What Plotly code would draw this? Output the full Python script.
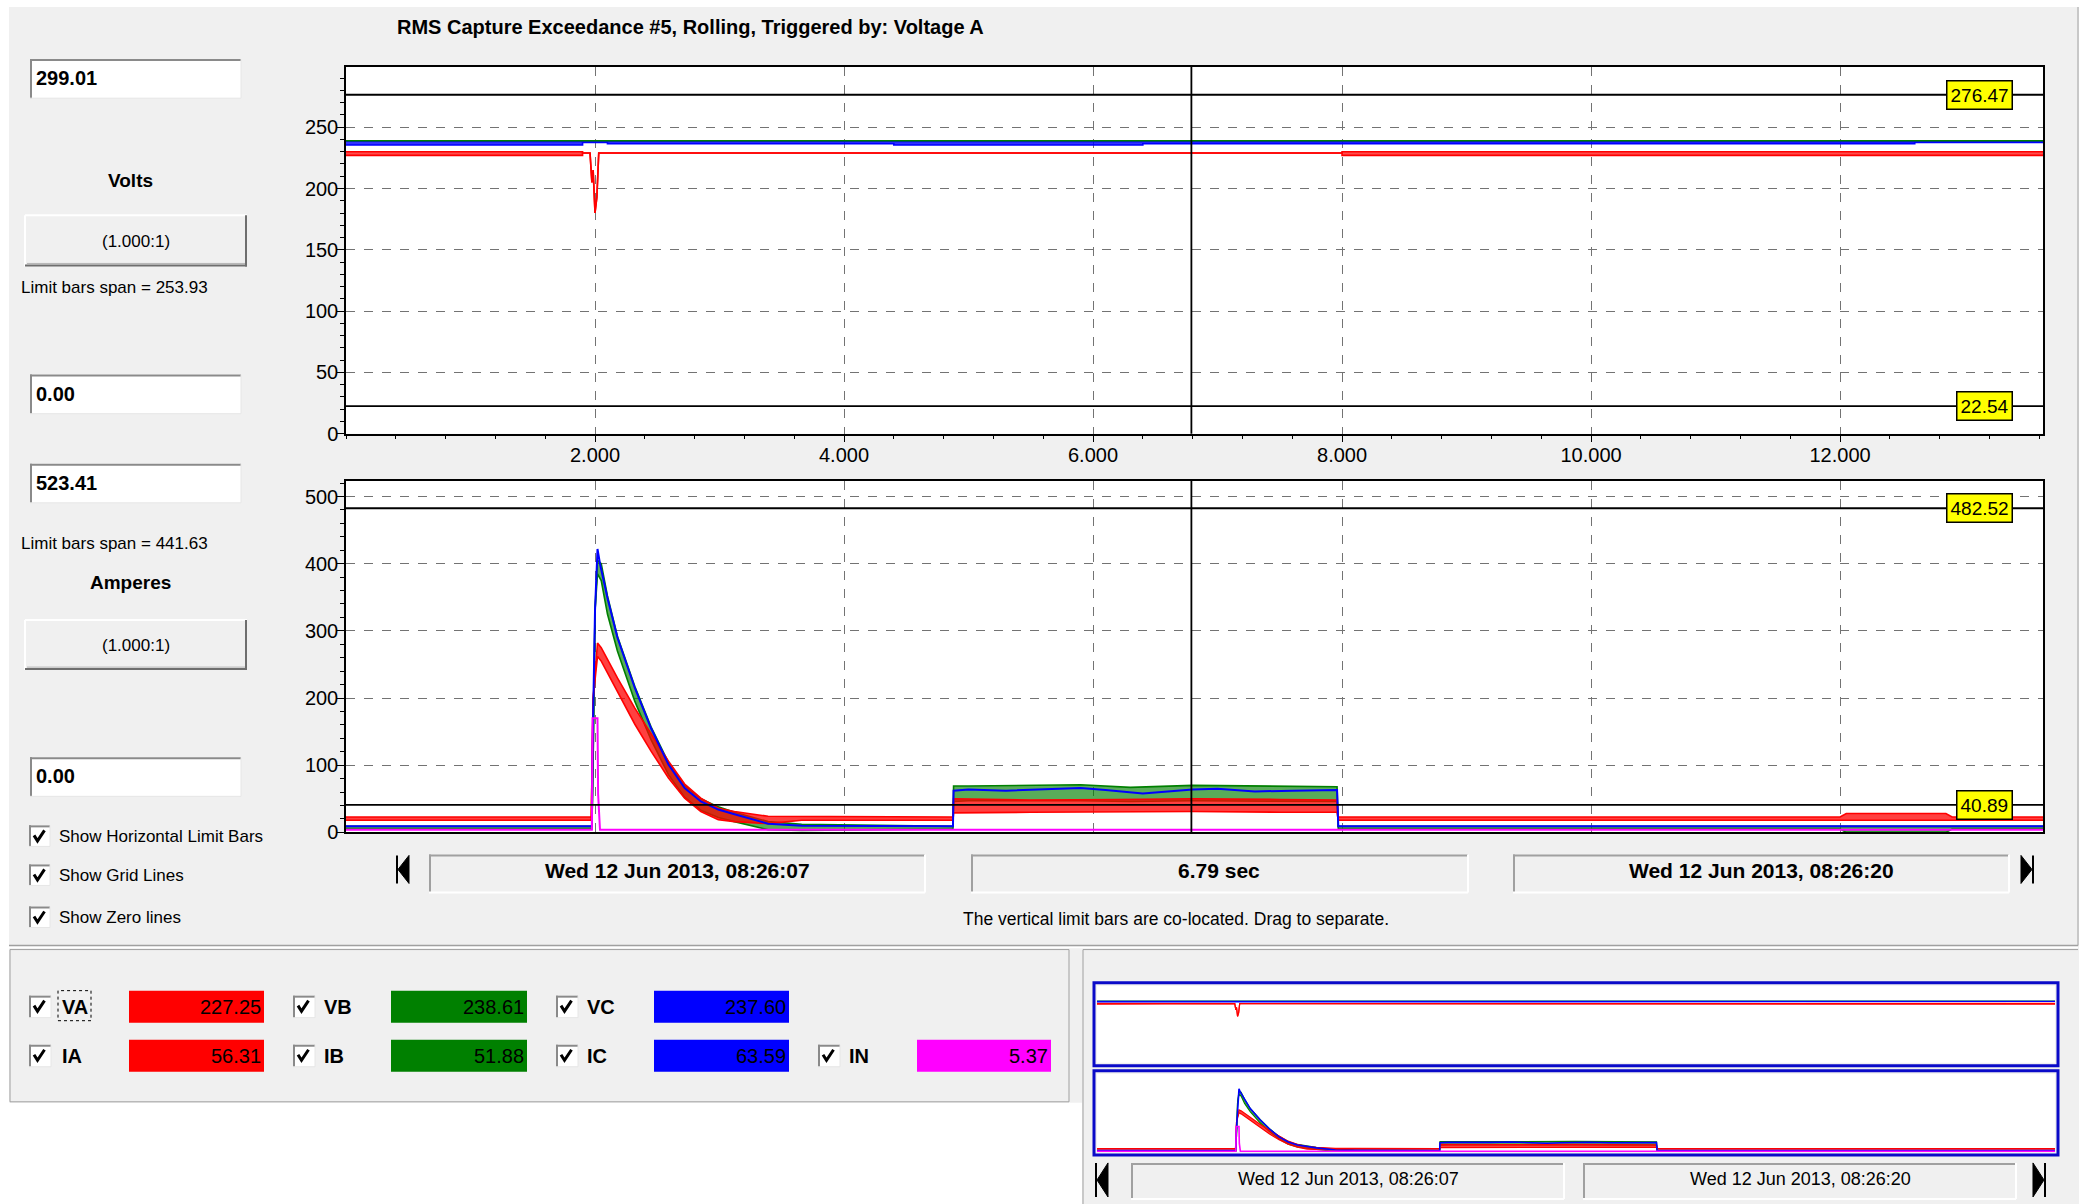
import plotly.graph_objects as go

# ---------------- data ----------------
T_MAX = 13.63
CURSOR_T = 6.79
V_MAX = 299.01
I_MAX = 523.41
V_LIMITS = [276.47, 22.54]
I_LIMITS = [482.52, 40.89]

X_TICKS = [2, 4, 6, 8, 10, 12]
X_TICK_TEXT = ["2.000", "4.000", "6.000", "8.000", "10.000", "12.000"]
V_TICKS = [0, 50, 100, 150, 200, 250]
I_TICKS = [0, 100, 200, 300, 400, 500]

# Voltage A (band = ripple envelope)
VA_T  = [0.00, 1.90, 1.90, 1.96, 1.975, 1.985, 2.00, 2.015, 2.03, 8.00, 8.00, 13.63]
VA_HI = [230.0, 230.0, 229.0, 229.0, 205.0, 215.0, 180.0, 193.0, 229.0, 229.0, 230.0, 230.0]
VA_LO = [227.0, 227.0, 229.0, 229.0, 205.0, 215.0, 180.0, 193.0, 229.0, 229.0, 227.0, 227.0]
# Voltage B
VB_T = [0.00, 13.63]
VB   = [239.0, 239.0]
# Voltage C
VC_T  = [0.00, 1.90, 1.90, 2.10, 2.10, 4.40, 4.40, 6.40, 6.40, 12.60, 12.60, 13.63]
VC_HI = [238.5, 238.5, 238.0, 238.0, 238.0, 238.0, 238.5, 238.5, 238.0, 238.0, 238.0, 238.0]
VC_LO = [235.5, 235.5, 237.5, 237.5, 236.5, 236.5, 235.5, 235.5, 236.5, 236.5, 237.5, 237.5]

# Current A
IA_T  = [0.00, 1.970, 1.985, 2.020, 2.050, 2.180, 2.320, 2.450, 2.590, 2.720, 2.850, 2.990, 3.120,
         3.390, 3.660, 4.875, 4.880, 5.500, 6.200, 6.800, 7.500, 7.960, 7.970, 12.00, 12.05, 12.85,
         12.90, 13.63]
IA_HI = [23, 23, 200, 282, 275, 230, 185, 146, 106, 72, 51, 36, 31,
         24, 24, 23, 50, 48, 49, 50, 49, 48, 23, 23, 28, 28,
         23, 23]
IA_LO = [18, 18, 200, 262, 255, 210, 161, 121, 81, 51, 31, 19, 16,
         13, 18, 18, 29, 30, 31, 31, 30, 30, 18, 18, 18, 18,
         18, 18]
# Current B
IB_T  = [0.00, 1.975, 1.985, 2.000, 2.020, 2.050, 2.100, 2.180, 2.320, 2.450, 2.590, 2.720, 2.850,
         2.990, 3.120, 3.390, 3.660, 4.875, 4.880, 5.000, 5.900, 6.300, 6.800, 7.400, 7.960, 7.970,
         12.00, 12.05, 12.85, 12.90, 13.63]
IB_HI = [9, 9, 110, 330, 405, 400, 352, 292, 217, 157, 104, 70, 50,
         38, 30, 16, 12, 9, 69, 69, 71, 67, 70, 69, 68, 9,
         9, 9, 9, 9, 9]
IB_LO = [5, 5, 110, 330, 385, 375, 325, 270, 195, 138, 86, 52, 33,
         22, 16, 4, 3, 5, 46, 47, 47, 46, 47, 47, 46, 5,
         5, 0, 0, 5, 5]
# Current C
IC_T = [0.00, 1.975, 1.980, 1.985, 2.000, 2.020, 2.040, 2.100, 2.180, 2.320, 2.450, 2.590, 2.720,
        2.850, 2.990, 3.120, 3.390, 3.660, 4.875, 4.880, 5.000, 5.300, 5.600, 5.900, 6.100, 6.400,
        6.600, 6.800, 7.000, 7.300, 7.600, 7.960, 7.970, 13.63]
IC   = [9, 9, 121, 161, 330, 422, 400, 349, 290, 215, 155, 101, 66,
        46, 34, 27, 13, 10, 9, 62, 64, 62, 64, 66, 63, 58,
        61, 64, 65, 61, 62, 63, 9, 9]
# Neutral current
IN_T = [0.00, 1.975, 1.980, 2.020, 2.025, 2.040, 13.63]
IN   = [4, 4, 170, 170, 57, 4, 4]

LEGEND_ROWS = [
    [("VA", "227.25", "#ff0000"), ("VB", "238.61", "#008000"), ("VC", "237.60", "#0000ff")],
    [("IA", "56.31", "#ff0000"), ("IB", "51.88", "#008000"), ("IC", "63.59", "#0000ff"), ("IN", "5.37", "#ff00ff")],
]

TITLE = "RMS Capture Exceedance #5, Rolling, Triggered by: Voltage A"
START_TIME = "Wed 12 Jun 2013, 08:26:07"
END_TIME = "Wed 12 Jun 2013, 08:26:20"
SPAN_TEXT = "6.79 sec"

# ---------------- helpers ----------------
W, H = 2082, 1204          # reference pixel frame used for placement
FIG_H = 1217               # figure height that fills the photographed page
FONT = "Liberation Sans, Arial, sans-serif"
RED, GREEN, BLUE, MAG = "#ff0000", "#008000", "#0000ff", "#ff00ff"


def px(x):
    return x / W


def py(y):
    return 1 - y / H


shapes = []
annotations = []


def rect(x0, y0, x1, y1, fill=None, color=None, width=1, dash=None, layer="above"):
    s = dict(type="rect", xref="paper", yref="paper", x0=px(x0), y0=py(y1), x1=px(x1), y1=py(y0),
             layer=layer, line=dict(width=width if color else 0, color=color or "rgba(0,0,0,0)"))
    if fill:
        s["fillcolor"] = fill
    if dash:
        s["line"]["dash"] = dash
    shapes.append(s)


def seg(x0, y0, x1, y1, color, width=1, dash=None):
    s = dict(type="line", xref="paper", yref="paper", x0=px(x0), y0=py(y0), x1=px(x1), y1=py(y1),
             line=dict(color=color, width=width), layer="above")
    if dash:
        s["line"]["dash"] = dash
    shapes.append(s)


def path(points, color="black", fill=None, width=1, closed=False):
    d = "M " + " L ".join(f"{px(x):.5f},{py(y):.5f}" for x, y in points)
    if closed:
        d += " Z"
    s = dict(type="path", xref="paper", yref="paper", path=d, layer="above",
             line=dict(color=color, width=width))
    if fill:
        s["fillcolor"] = fill
    shapes.append(s)


def text(x, y, s, size=17, bold=False, anchor="left", color="black"):
    annotations.append(dict(xref="paper", yref="paper", x=px(x), y=py(y),
                            text=f"<b>{s}</b>" if bold else s, showarrow=False,
                            xanchor=anchor, yanchor="middle",
                            font=dict(family=FONT, size=size, color=color)))


def sunken(x0, y0, x1, y1, fill="white"):
    rect(x0, y0, x1, y1, fill=fill)
    seg(x0, y0 + 1, x1, y0 + 1, "#8a8a8a", 2)
    seg(x0 + 1, y0, x0 + 1, y1, "#8a8a8a", 2)
    seg(x0, y1, x1, y1, "#e6e6e6", 1)
    seg(x1, y0, x1, y1, "#e6e6e6", 1)


def raised(x0, y0, x1, y1):
    rect(x0, y0, x1, y1, fill="#f0f0f0")
    seg(x0, y0, x1, y0, "white", 2)
    seg(x0, y0, x0, y1, "white", 2)
    seg(x0, y1 - 1, x1, y1 - 1, "#6e6e6e", 2)
    seg(x1 - 1, y0, x1 - 1, y1, "#6e6e6e", 2)
    seg(x0 + 2, y1 - 3, x1 - 2, y1 - 3, "#b4b4b4", 1)


def checkbox(x0, y0, size=21):
    sunken(x0, y0, x0 + size, y0 + size)
    path([(x0 + 5, y0 + 10), (x0 + 8.5, y0 + 15.5), (x0 + 15.5, y0 + 5)], "black", width=3)


def nav_box(x0, y0, x1, y1):
    rect(x0, y0, x1, y1, fill="#f0f0f0")
    seg(x0, y0 + 1, x1, y0 + 1, "#a0a0a0", 2)
    seg(x0 + 1, y0, x0 + 1, y1, "#a0a0a0", 2)
    seg(x0, y1, x1, y1, "white", 2)
    seg(x1, y0, x1, y1, "white", 2)


def arrow(xb, yc, h, direction):
    half = h / 2
    if direction == "left":
        seg(xb, yc - half, xb, yc + half, "black", 2)
        path([(xb + 1, yc), (xb + 12, yc - half), (xb + 12, yc + half)], "black", fill="black", closed=True)
    else:
        seg(xb, yc - half, xb, yc + half, "black", 2)
        path([(xb - 1, yc), (xb - 12, yc - half), (xb - 12, yc + half)], "black", fill="black", closed=True)


# ---------------- figure & traces ----------------
fig = go.Figure()


def band(t, lo, hi, color, fillcolor, xa, ya, width):
    fig.add_trace(go.Scatter(x=t, y=lo, mode="lines", line=dict(color=color, width=width),
                             xaxis=xa, yaxis=ya, hoverinfo="skip", showlegend=False))
    fig.add_trace(go.Scatter(x=t, y=hi, mode="lines", line=dict(color=color, width=width),
                             fill="tonexty", fillcolor=fillcolor, xaxis=xa, yaxis=ya,
                             hoverinfo="skip", showlegend=False))


def line(t, v, color, xa, ya, width):
    fig.add_trace(go.Scatter(x=t, y=v, mode="lines", line=dict(color=color, width=width),
                             xaxis=xa, yaxis=ya, hoverinfo="skip", showlegend=False))


for (xa, ya, xb, yb, lw, green_last) in [("x", "y", "x2", "y2", 1.6, True),
                                         ("x3", "y3", "x4", "y4", 1.2, False)]:
    band(VA_T, VA_LO, VA_HI, RED, "rgba(255,0,0,0.7)", xa, ya, lw)
    if not green_last:
        line(VB_T, VB, GREEN, xa, ya, lw)
    band(VC_T, VC_LO, VC_HI, BLUE, "rgba(0,0,255,0.8)", xa, ya, lw)
    if green_last:
        line(VB_T, VB, GREEN, xa, ya, lw)

    band(IB_T, IB_LO, IB_HI, GREEN, "rgba(0,128,0,0.65)", xb, yb, lw)
    band(IA_T, IA_LO, IA_HI, RED, "rgba(255,0,0,0.75)", xb, yb, lw)
    line(IC_T, IC, BLUE, xb, yb, lw + 0.4)
    line(IN_T, IN, MAG, xb, yb, lw + 0.4)

# ---------------- axes ----------------
PLOT_X = [px(346), px(2043)]
tickfont = dict(family=FONT, size=20, color="black")
grid = dict(showgrid=True, gridcolor="#737373", griddash="dash", gridwidth=1)

xcommon = dict(domain=PLOT_X, range=[0, T_MAX], tickvals=X_TICKS, ticktext=X_TICK_TEXT,
               showline=True, linecolor="black", linewidth=1.5, mirror=True, zeroline=False,
               tickfont=tickfont, fixedrange=True, **grid)

fig.update_layout(
    width=W, height=FIG_H, autosize=False, margin=dict(l=0, r=0, t=0, b=0, pad=0),
    paper_bgcolor="#f0f0f0", plot_bgcolor="white", showlegend=False,
    xaxis=dict(anchor="y", ticks="outside", ticklen=7, tickcolor="black", ticklabelstandoff=-4,
               minor=dict(tickmode="linear", tick0=0, dtick=0.4, ticks="outside", ticklen=4,
                          tickcolor="black", showgrid=False), **xcommon),
    yaxis=dict(anchor="x", domain=[py(433), py(67)], range=[0, V_MAX], tickvals=V_TICKS,
               ticks="outside", ticklen=7, tickcolor="black", showline=True, linecolor="black",
               linewidth=1.5, mirror=True, zeroline=False, tickfont=tickfont, fixedrange=True,
               ticklabelstandoff=-5,
               minor=dict(tickmode="linear", tick0=0, dtick=10, ticks="outside", ticklen=4,
                          tickcolor="black", showgrid=False), **grid),
    xaxis2=dict(anchor="y2", ticks="", showticklabels=False, **xcommon),
    yaxis2=dict(anchor="x2", domain=[py(831), py(480)], range=[0, I_MAX], tickvals=I_TICKS,
                ticks="outside", ticklen=7, tickcolor="black", showline=True, linecolor="black",
                linewidth=1.5, mirror=True, zeroline=False, tickfont=tickfont, fixedrange=True,
                ticklabelstandoff=-5,
                minor=dict(tickmode="linear", tick0=0, dtick=20, ticks="outside", ticklen=4,
                           tickcolor="black", showgrid=False), **grid),
    xaxis3=dict(anchor="y3", domain=[px(1097), px(2055)], range=[0, T_MAX], visible=False, fixedrange=True),
    yaxis3=dict(anchor="x3", domain=[py(1061), py(984)], range=[0, V_MAX], visible=False, fixedrange=True),
    xaxis4=dict(anchor="y4", domain=[px(1097), px(2055)], range=[0, T_MAX], visible=False, fixedrange=True),
    yaxis4=dict(anchor="x4", domain=[py(1150), py(1072)], range=[0, I_MAX], visible=False, fixedrange=True),
)

# ---------------- limit bars, cursor, labels ----------------
for ya, xa, lims in [("y", "x", V_LIMITS), ("y2", "x2", I_LIMITS)]:
    for v in lims:
        shapes.append(dict(type="line", xref=f"{xa} domain", yref=ya, x0=0, x1=1, y0=v, y1=v,
                           line=dict(color="black", width=1.8), layer="above"))
        annotations.append(dict(xref="paper", yref=ya, x=px(2013), y=v, text=f"{v:.2f}",
                                showarrow=False, xanchor="right", yanchor="middle",
                                bgcolor="#ffff00", bordercolor="black", borderwidth=1.5, borderpad=3,
                                font=dict(family=FONT, size=19, color="black")))
    shapes.append(dict(type="line", xref=xa, yref=f"{ya} domain", x0=CURSOR_T, x1=CURSOR_T, y0=0, y1=1,
                       line=dict(color="black", width=1.8), layer="above"))

# ---------------- window chrome ----------------
rect(0, 0, W, 7, fill="white")
rect(0, 0, 9, H, fill="white")
rect(2079, 0, W, H, fill="white")
rect(0, 1101, 1082, H, fill="white")
seg(2078, 7, 2078, 944, "#a0a0a0", 1)
seg(9, 944, 2078, 944, "#a0a0a0", 1.5)
seg(9, 946, 2078, 946, "white", 1.5)
rect(10, 948, 1069, 1100, color="#a0a0a0", width=1)
seg(1083, 948, 1083, H, "#a0a0a0", 1)
seg(1083, 948, 2078, 948, "#a0a0a0", 1)

# title
text(690, 27, TITLE, size=20, bold=True, anchor="center")

# left panel
sunken(30, 59, 241, 98)
text(34, 78, "299.01", size=20, bold=True)
text(130, 180, "Volts", size=19, bold=True, anchor="center")
raised(25, 215, 247, 266)
text(136, 241, "(1.000:1)", size=17, anchor="center")
text(19, 287, "Limit bars span = 253.93", size=17)
sunken(30, 374, 241, 413)
text(34, 393, "0.00", size=20, bold=True)

sunken(30, 463, 241, 502)
text(34, 482, "523.41", size=20, bold=True)
text(19, 543, "Limit bars span = 441.63", size=17)
text(130, 582, "Amperes", size=19, bold=True, anchor="center")
raised(25, 619, 247, 669)
text(136, 644, "(1.000:1)", size=17, anchor="center")
sunken(30, 756, 241, 795)
text(34, 775, "0.00", size=20, bold=True)

for yy, label in [(824, "Show Horizontal Limit Bars"), (863, "Show Grid Lines"), (905, "Show Zero lines")]:
    checkbox(29, yy)
    text(57, yy + 11, label, size=17)

# navigation bar under charts
arrow(397, 868, 28, "left")
nav_box(429, 853, 925, 891)
nav_box(971, 853, 1468, 891)
nav_box(1513, 853, 2009, 891)
arrow(2033, 868, 28, "right")
text(677, 869, START_TIME, size=21, bold=True, anchor="center")
text(1219, 869, SPAN_TEXT, size=21, bold=True, anchor="center")
text(1761, 869, END_TIME, size=21, bold=True, anchor="center")
text(1176, 917, "The vertical limit bars are co-located. Drag to separate.", size=17.5, anchor="center")

# legend / value panel
CB_X = [29, 293, 556, 818]
LBL_X = [60, 322, 585, 847]
BOX_X = [(129, 264), (391, 527), (654, 789), (917, 1051)]
ROW_Y = [(989, 1021), (1038, 1070)]
for r, row in enumerate(LEGEND_ROWS):
    y0, y1 = ROW_Y[r]
    yc = (y0 + y1) / 2
    for c, (name, val, col) in enumerate(row):
        checkbox(CB_X[c], yc - 11, 22)
        text(LBL_X[c], yc, name, size=20, bold=True)
        bx0, bx1 = BOX_X[c]
        rect(bx0, y0, bx1, y1, fill=col)
        text(bx1 - 1, yc, val, size=20, anchor="right")
rect(58, 989, 91, 1019, color="black", width=1, dash="dot")

# overview (mini) charts
rect(1094, 981, 2058, 1064, color="#0a0ac8", width=3)
rect(1094, 1069, 2058, 1153, color="#0a0ac8", width=3)
arrow(1096, 1178, 34, "left")
nav_box(1131, 1161, 1564, 1197)
nav_box(1583, 1161, 2016, 1197)
arrow(2045, 1178, 34, "right")
text(1348, 1177, START_TIME, size=18, anchor="center")
text(1800, 1177, END_TIME, size=18, anchor="center")

fig.update_layout(shapes=shapes, annotations=annotations)

PAGE_FIX = ("var gd=document.getElementById('{plot_id}');"
            "gd.style.position='fixed';gd.style.left='0px';gd.style.top='0px';"
            "document.body.style.margin='0px';document.body.style.overflow='hidden';"
            "document.documentElement.style.overflow='hidden';")
fig.write_html("out.html", config={"displayModeBar": False, "responsive": False},
               post_script=PAGE_FIX)
